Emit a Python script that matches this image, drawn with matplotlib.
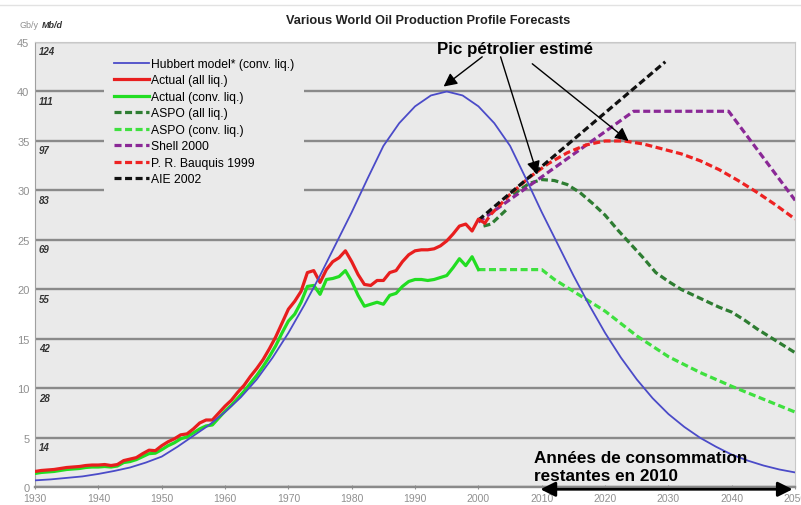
import numpy as np
import matplotlib
matplotlib.use("Agg")
import matplotlib.pyplot as plt
from matplotlib.lines import Line2D

plt.rcParams['font.family'] = ['Liberation Sans', 'DejaVu Sans']

# --- data (Gb/y) ---
hubbert_years = np.arange(1930, 2050.1, 2.5)
hubbert = [0.7, 0.8, 0.95, 1.1, 1.35, 1.65, 2.0, 2.5, 3.1, 4.1,
           5.2, 6.3, 7.6, 9.1, 10.9, 13.1, 15.6, 18.4, 21.4, 24.6,
           27.8, 31.2, 34.5, 36.8, 38.5, 39.6, 40.0, 39.6, 38.5, 36.8,
           34.5, 31.2, 27.8, 24.6, 21.4, 18.4, 15.6, 13.1, 10.9, 9.0,
           7.4, 6.1, 5.0, 4.1, 3.3, 2.7, 2.2, 1.8, 1.5]

actual_all_years = np.arange(1930, 2002)
actual_all = [1.6, 1.7, 1.75, 1.8, 1.9, 2.0, 2.05, 2.1, 2.2, 2.25,
              2.25, 2.3, 2.2, 2.3, 2.7, 2.85, 3.0, 3.4, 3.75, 3.7,
              4.2, 4.6, 4.9, 5.3, 5.4, 5.9, 6.5, 6.8, 6.8, 7.5,
              8.2, 8.8, 9.6, 10.3, 11.2, 12.0, 12.9, 14.0, 15.2, 16.6,
              18.0, 18.8, 19.8, 21.7, 21.9, 20.7, 22.0, 22.8, 23.2, 23.9,
              22.8, 21.5, 20.5, 20.4, 20.9, 20.9, 21.7, 21.9, 22.8, 23.5,
              23.9, 24.0, 24.0, 24.1, 24.4, 24.9, 25.6, 26.4, 26.6, 25.9,
              27.1, 26.7]

actual_conv_years = np.arange(1930, 2001)
actual_conv = [1.4, 1.5, 1.55, 1.6, 1.7, 1.8, 1.85, 1.9, 2.0, 2.05,
               2.05, 2.1, 2.05, 2.15, 2.5, 2.6, 2.8, 3.1, 3.4, 3.45,
               3.8, 4.2, 4.5, 4.9, 5.1, 5.5, 5.9, 6.2, 6.3, 7.0,
               7.7, 8.3, 9.0, 9.7, 10.5, 11.3, 12.2, 13.2, 14.3, 15.6,
               16.8, 17.5, 18.7, 20.3, 20.4, 19.5, 21.0, 21.1, 21.3, 21.9,
               20.8, 19.4, 18.3, 18.5, 18.7, 18.5, 19.4, 19.6, 20.3, 20.8,
               21.0, 21.0, 20.9, 21.0, 21.2, 21.4, 22.2, 23.1, 22.4, 23.3,
               22.0]

aspo_all_years = [2000.8, 2002, 2003, 2004.5, 2005, 2005.5, 2008, 2010, 2012, 2014,
                  2016, 2018, 2020, 2022, 2024, 2026, 2028, 2030, 2032, 2035,
                  2038, 2040, 2042, 2044, 2046, 2048, 2050]
aspo_all = [26.4, 26.6, 27.2, 28.1, np.nan, 29.6, 30.7, 31.1, 31.0, 30.6,
            29.8, 28.7, 27.5, 26.0, 24.6, 23.2, 21.7, 20.8, 20.0, 19.1,
            18.2, 17.7, 16.9, 16.0, 15.2, 14.4, 13.6]

aspo_conv_years = [2000, 2010, 2012, 2015, 2020, 2025, 2030, 2035, 2040, 2045, 2050]
aspo_conv = [22.0, 22.0, 21.0, 19.8, 17.8, 15.3, 13.2, 11.6, 10.2, 8.9, 7.6]

shell_years = [2000, 2024.5, 2039.5, 2050]
shell = [26.8, 38.0, 38.0, 29.0]

bauquis_years = [2001, 2002, 2005, 2008, 2011, 2014, 2017, 2020, 2023, 2026,
                 2029, 2032, 2035, 2038, 2041, 2044, 2047, 2050]
bauquis = [26.7, 27.6, 29.6, 31.3, 32.7, 33.8, 34.6, 35.0, 35.0, 34.7,
           34.2, 33.7, 33.0, 32.1, 31.0, 29.8, 28.5, 27.1]

aie_years = [2000, 2029.5]
aie = [27.0, 43.0]

mbd_labels = ['14', '28', '42', '55', '69', '83', '97', '111', '124']
gby_ticks = list(range(0, 46, 5))
x_ticks = list(range(1930, 2051, 10))

bg = '#eaeaea'
dash = (0, (2.2, 1.1))

fig = plt.figure(figsize=(8.01, 5.06), dpi=100)
ax = fig.add_axes([0.0437, 0.035, 0.949, 0.880])
ax.set_facecolor(bg)

ax.plot(aspo_conv_years, aspo_conv, color='#3fe03f', lw=2.3, ls=dash, zorder=3, label='ASPO (conv. liq.)')
ax.plot(aspo_all_years, aspo_all, color='#2e7d32', lw=2.3, ls=dash, zorder=3, label='ASPO (all liq.)')
ax.plot(shell_years, shell, color='#8a2896', lw=2.3, ls=dash, zorder=3.2, label='Shell 2000')
ax.plot(bauquis_years, bauquis, color='#ee2222', lw=2.3, ls=dash, zorder=3.4, label='P. R. Bauquis 1999')
ax.plot(aie_years, aie, color='#111111', lw=2.3, ls=dash, zorder=3.6, label='AIE 2002')
ax.plot(actual_conv_years, actual_conv, color='#22dd22', lw=2.3, zorder=4, label='Actual (conv. liq.)')
ax.plot(actual_all_years, actual_all, color='#e81e1e', lw=2.3, zorder=4.2, label='Actual (all liq.)')
ax.plot(hubbert_years, hubbert, color='#4b4bc8', lw=1.3, zorder=5, label='Hubbert model* (conv. liq.)')

ax.set_xlim(1930, 2050)
ax.set_ylim(0, 45)
ax.set_yticks(gby_ticks)
ax.set_xticks(x_ticks)
ax.yaxis.grid(True, color='#8a8a8a', lw=1.7, zorder=1)
ax.set_axisbelow(True)
ax.tick_params(axis='y', length=0, labelsize=8, labelcolor='#909090', pad=4)
ax.tick_params(axis='x', direction='inout', length=3, color='#909090',
               labelsize=7.5, labelcolor='#909090', pad=2.5)
for s in ['top', 'right']:
    ax.spines[s].set_color('#c8c8c8')
    ax.spines[s].set_linewidth(0.8)
ax.spines['left'].set_color('#a0a0a0')
ax.spines['bottom'].set_color('#8a8a8a')
ax.spines['bottom'].set_linewidth(1.7)

for v, lab in zip(gby_ticks[1:], mbd_labels):
    ax.text(1930.6, v - 0.45, lab, ha='left', va='top', fontsize=7,
            fontweight='bold', fontstyle='italic', color='#333333', zorder=6)

order = ['Hubbert model* (conv. liq.)', 'Actual (all liq.)', 'Actual (conv. liq.)',
         'ASPO (all liq.)', 'ASPO (conv. liq.)', 'Shell 2000', 'P. R. Bauquis 1999', 'AIE 2002']
h, l = ax.get_legend_handles_labels()
hd = dict(zip(l, h))
leg = ax.legend([hd[k] for k in order], order, loc='upper left',
                bbox_to_anchor=(0.083, 1.0), fontsize=8.75, handlelength=2.9,
                handletextpad=0.12, labelspacing=0.37, borderpad=0.8,
                frameon=True, fancybox=False, facecolor=bg, edgecolor='none',
                framealpha=1.0)
leg.set_zorder(2)

arrow = dict(arrowstyle='-|>', color='black', lw=1.0, mutation_scale=20,
             shrinkA=0, shrinkB=0)
ax.annotate('', xy=(1994.5, 40.5), xytext=(2000.6, 43.5), arrowprops=arrow, zorder=7)
ax.annotate('', xy=(2009.3, 31.6), xytext=(2003.5, 43.5), arrowprops=arrow, zorder=7)
ax.annotate('', xy=(2023.7, 35.0), xytext=(2008.5, 42.8), arrowprops=arrow, zorder=7)
ax.text(2005.8, 44.3, 'Pic pétrolier estimé', ha='center', va='center',
        fontsize=12.2, fontweight='bold', zorder=7)

ax.text(2008.7, 3.05, 'Années de consommation', ha='left', va='center',
        fontsize=12.3, fontweight='bold', zorder=7)
ax.text(2008.7, 1.15, 'restantes en 2010', ha='left', va='center',
        fontsize=12.3, fontweight='bold', zorder=7)
ax.annotate('', xy=(2049.6, -0.2), xytext=(2009.8, -0.2),
            arrowprops=dict(arrowstyle='<|-|>', color='black', lw=2.0,
                            mutation_scale=22, shrinkA=0, shrinkB=0),
            annotation_clip=False, zorder=8)

fig.text(428 / 801, 1 - 20.5 / 506, 'Various World Oil Production Profile Forecasts',
         ha='center', va='center', fontsize=9.2, fontweight='bold', color='#222222')
fig.text(20 / 801, 1 - 25 / 506, 'Gb/y', ha='left', va='center', fontsize=6.5, color='#909090')
fig.text(42 / 801, 1 - 25 / 506, 'Mb/d', ha='left', va='center', fontsize=6.5,
         fontweight='bold', fontstyle='italic', color='#333333')
fig.add_artist(Line2D([0, 1], [1 - 6 / 506] * 2, color='#e2e2e2', lw=1.0))

fig.savefig('out.png', dpi=100)
